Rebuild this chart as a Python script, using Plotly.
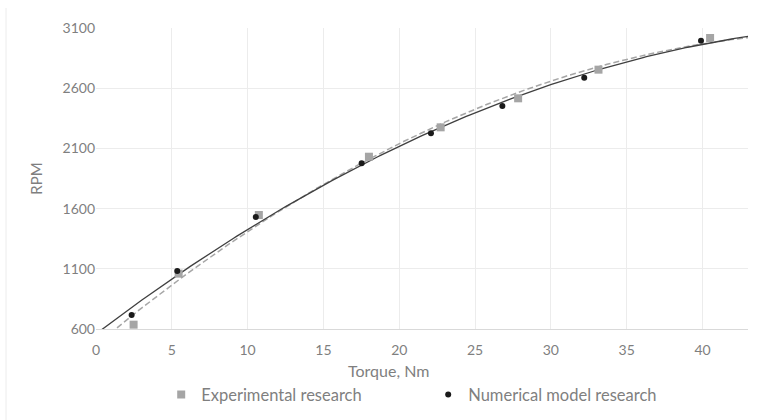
import numpy as np
import plotly.graph_objects as go

# Data
exp_torque = [2.48, 5.45, 10.74, 18.0, 22.73, 27.84, 33.14, 40.5]
exp_rpm = [636, 1060, 1547, 2031, 2275, 2516, 2754, 3017]
num_torque = [2.35, 5.36, 10.54, 17.52, 22.09, 26.8, 32.2, 39.9]
num_rpm = [716, 1082, 1530, 1976, 2225, 2452, 2687, 2995]

x_ticks = [0, 5, 10, 15, 20, 25, 30, 35, 40]
y_ticks = [600, 1100, 1600, 2100, 2600, 3100]

# Polynomial (order 2) trendlines, like the spreadsheet's
xs = np.linspace(0, 43, 200)
p_exp = np.polyfit(exp_torque, exp_rpm, 2)
p_num = np.polyfit(num_torque, num_rpm, 2)

FONT = "Lato, 'Open Sans', sans-serif"
GRAY = "#7f7f7f"

fig = go.Figure()
fig.add_trace(go.Scatter(x=xs, y=np.polyval(p_exp, xs), mode="lines",
                         line=dict(color="#a6a6a6", width=1.5, dash="6px,3px"),
                         showlegend=False, hoverinfo="skip"))
fig.add_trace(go.Scatter(x=xs, y=np.polyval(p_num, xs), mode="lines",
                         line=dict(color="#404040", width=1.3),
                         showlegend=False, hoverinfo="skip"))
fig.add_trace(go.Scatter(x=exp_torque, y=exp_rpm, mode="markers",
                         name="Experimental research",
                         marker=dict(symbol="square", size=8, color="#a5a5a5")))
fig.add_trace(go.Scatter(x=num_torque, y=num_rpm, mode="markers",
                         name="Numerical model research",
                         marker=dict(symbol="circle", size=6, color="#1a1a1a")))

H = 420
T, B = 28, 91
PH = H - T - B
PW = 784 - 96 - 36

fig.update_layout(
    width=784, height=H,
    margin=dict(l=96, r=36, t=T, b=B, autoexpand=False),
    paper_bgcolor="white", plot_bgcolor="white",
    font=dict(family=FONT, color=GRAY, size=14),
    legend=dict(orientation="h", x=0.1, xanchor="left", y=-0.16, yanchor="top",
                font=dict(size=16.5, color=GRAY), itemwidth=30, entrywidth=222,
                tracegroupgap=0),
    xaxis=dict(range=[0, 43], tickvals=x_ticks, showgrid=True, gridcolor="#ececec",
               gridwidth=1, zeroline=False, showline=True, linecolor="#d9d9d9",
               ticks="outside", ticklen=8, tickcolor="rgba(0,0,0,0)",
               automargin=False,
               tickfont=dict(size=14, color=GRAY)),
    yaxis=dict(range=[600, 3100], tickvals=y_ticks, showgrid=True, gridcolor="#ececec",
               gridwidth=1, zeroline=False, showline=False, ticks="",
               automargin=False,
               tickfont=dict(size=14, color=GRAY),
               title=dict(text="RPM", font=dict(size=15, color=GRAY), standoff=16)),
    annotations=[dict(text="Torque, Nm", xref="paper", yref="paper",
                      x=(388 - 96) / PW, y=(H - B - 370) / PH,
                      xanchor="center", yanchor="middle", showarrow=False,
                      font=dict(size=16, color=GRAY, family=FONT))],
    shapes=[dict(type="line", xref="paper", yref="paper",
                 x0=(6 - 96) / PW, x1=(6 - 96) / PW,
                 y0=(H - B - 8) / PH, y1=(H - B - 420) / PH,
                 line=dict(color="#ececec", width=1))],
)

fig.write_html("out.html", config={"displayModeBar": False},
               post_script="document.body.style.margin='0';")
